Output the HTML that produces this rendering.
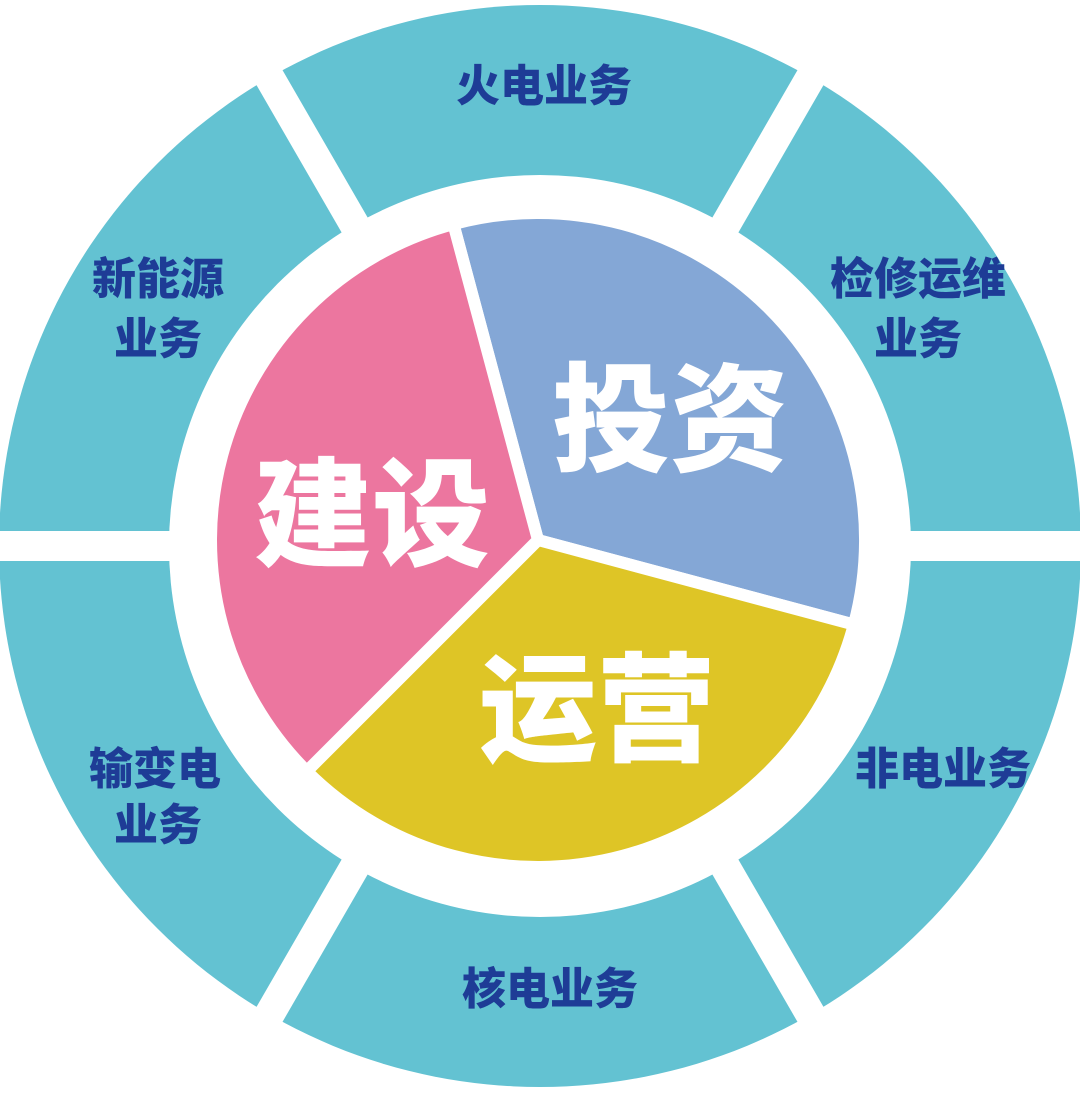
<!DOCTYPE html>
<html><head><meta charset="utf-8"><style>
html,body{margin:0;padding:0;background:#fff;}
svg{display:block;}
.o{font-family:"Liberation Sans","Noto Sans CJK SC",sans-serif;font-weight:900;font-size:44px;fill:#1E3C96;text-anchor:middle;}
.i{font-family:"Liberation Sans","Noto Sans CJK SC",sans-serif;font-weight:900;font-size:118px;fill:#fff;text-anchor:middle;}
</style></head><body>
<svg width="1080" height="1093" viewBox="0 0 1080 1093" xmlns="http://www.w3.org/2000/svg">
<circle cx="540" cy="546" r="541" fill="#63C2D2"/>
<circle cx="540" cy="546" r="371" fill="#fff"/>
<g stroke="#fff" stroke-width="30">
<line x1="-10" y1="546" x2="1090" y2="546"/>
<line x1="540" y1="546" x2="227" y2="4"/>
<line x1="540" y1="546" x2="853" y2="4"/>
<line x1="540" y1="546" x2="227" y2="1088"/>
<line x1="540" y1="546" x2="853" y2="1088"/>
</g>
<g stroke="#fff" stroke-width="12" stroke-linejoin="miter">
<path d="M538 540 L453.4 224.1 A327 327 0 0 1 853.9 624.6 Z" fill="#84A7D6"/>
<path d="M538 540 L853.9 624.6 A327 327 0 0 1 306.8 771.2 Z" fill="#DEC526"/>
<path d="M538 540 L306.8 771.2 A327 327 0 0 1 453.4 224.1 Z" fill="#EC769F"/>
</g>
<text class="i" x="670" y="462">投资</text>
<text class="i" x="372" y="557">建设</text>
<text class="i" x="597" y="752">运营</text>
<text class="o" x="544" y="101">火电业务</text>
<text class="o" x="918" y="294">检修运维</text>
<text class="o" x="918" y="354">业务</text>
<text class="o" x="158" y="294">新能源</text>
<text class="o" x="158" y="354">业务</text>
<text class="o" x="943" y="784">非电业务</text>
<text class="o" x="155" y="784">输变电</text>
<text class="o" x="158" y="840">业务</text>
<text class="o" x="550" y="1004">核电业务</text>
</svg>
</body></html>
